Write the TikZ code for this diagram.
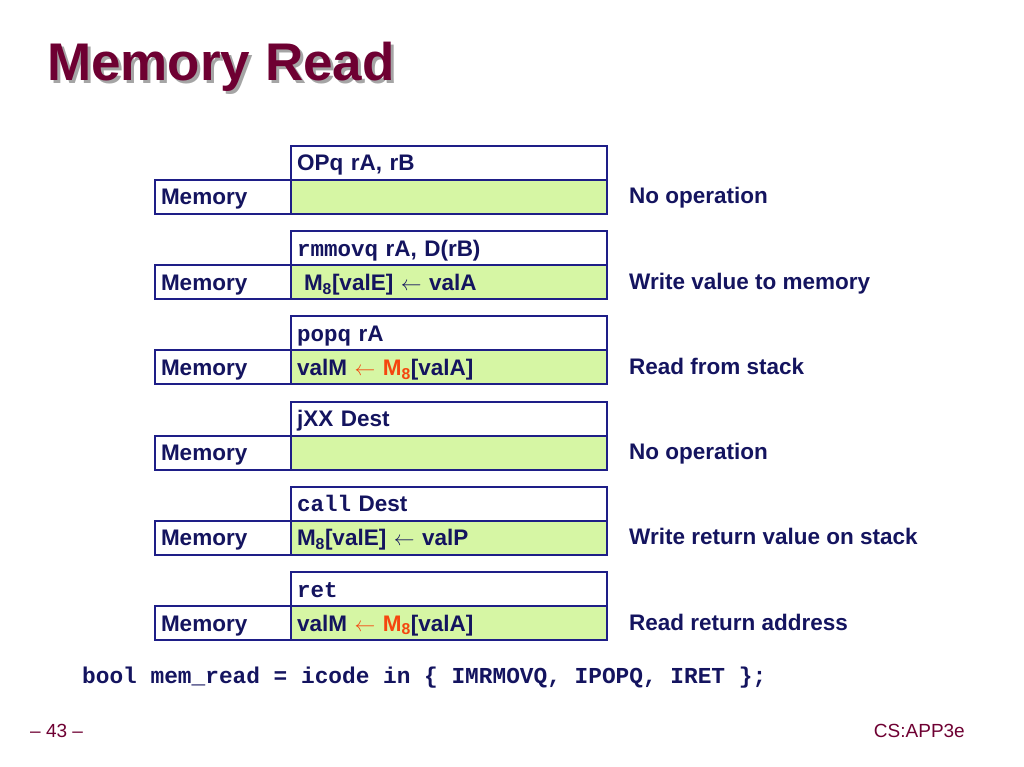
\documentclass[tikz,border=0pt]{standalone}
\usepackage{fontspec}
\setmainfont{Liberation Sans}
\setmonofont{Liberation Mono}
\definecolor{navy}{RGB}{20,20,95}
\definecolor{bord}{RGB}{30,30,135}
\definecolor{lime}{RGB}{214,246,164}
\definecolor{maroon}{RGB}{110,0,50}
\definecolor{shadowgray}{RGB}{165,165,165}
\definecolor{hot}{RGB}{245,70,15}
\newcommand{\la}{$\leftarrow$}
\newcommand{\hla}{\textcolor{hot}{$\leftarrow$}}
\begin{document}
\begin{tikzpicture}[x=1pt,y=-1pt,
  txt/.style={font=\fontsize{22.5}{26}\selectfont\bfseries, text=navy},
  basebox/.style={draw=bord, line width=2pt, anchor=north west, inner sep=0pt,
     inner xsep=6pt, minimum height=34pt, align=left, text height=16pt, text depth=0pt, txt},
  instbox/.style={basebox, fill=white, minimum width=316pt, text width=304pt},
  opbox/.style={basebox, fill=lime, minimum width=316pt, text width=304pt},
  membox/.style={basebox, fill=white, minimum width=136pt, text width=124pt},
  desc/.style={txt, anchor=west, inner sep=0pt, text height=16pt, text depth=0pt},
  foot/.style={font=\fontsize{19}{22}\selectfont, text=maroon, inner sep=0pt},
  titlefont/.style={font=\fontsize{53}{60}\selectfont\bfseries, anchor=base west, inner sep=0pt}
]
\useasboundingbox (0,0) rectangle (1024,767);

% title
\node[titlefont, text=shadowgray] (titleshadow) at (50,84) {Memory Read};
\node[titlefont, text=maroon] (title) at (47,81) {Memory Read};

% row 1
\node[instbox] (i1) at (290,145) {OPq rA, rB};
\node[membox] (m1) at (154,179) {Memory};
\node[opbox] (o1) at (290,179) {};
\node[desc] (d1) at (629,196) {No operation};

% row 2
\node[instbox] (i2) at (290,230.2) {\texttt{rmmovq} rA, D(rB)};
\node[membox] (m2) at (154,264.2) {Memory};
\node[opbox] (o2) at (290,264.2) {\hspace*{7pt}M\textsubscript{8}[valE] \la{} valA};
\node[desc] (d2) at (629,281.2) {Write value to memory};

% row 3
\node[instbox] (i3) at (290,315.4) {\texttt{popq} rA};
\node[membox] (m3) at (154,349.4) {Memory};
\node[opbox] (o3) at (290,349.4) {valM \hla{} \textcolor{hot}{M\textsubscript{8}}[valA]};
\node[desc] (d3) at (629,366.4) {Read from stack};

% row 4
\node[instbox] (i4) at (290,400.6) {jXX Dest};
\node[membox] (m4) at (154,434.6) {Memory};
\node[opbox] (o4) at (290,434.6) {};
\node[desc] (d4) at (629,451.6) {No operation};

% row 5
\node[instbox] (i5) at (290,485.8) {\texttt{call} Dest};
\node[membox] (m5) at (154,519.8) {Memory};
\node[opbox] (o5) at (290,519.8) {M\textsubscript{8}[valE] \la{} valP};
\node[desc] (d5) at (629,536.8) {Write return value on stack};

% row 6
\node[instbox] (i6) at (290,571) {\texttt{ret}};
\node[membox] (m6) at (154,605) {Memory};
\node[opbox] (o6) at (290,605) {valM \hla{} \textcolor{hot}{M\textsubscript{8}}[valA]};
\node[desc] (d6) at (629,622) {Read return address};

% code line
\node[font=\fontsize{22.8}{26}\selectfont\ttfamily\bfseries, text=navy, anchor=base west, inner sep=0pt] (code) at (82,683)
  {bool mem\_read = icode in \{ IMRMOVQ, IPOPQ, IRET \};};

% footer
\node[foot, anchor=west] (page) at (30,731) {– 43 –};
\node[foot, anchor=east] (brand) at (965,731) {CS:APP3e};
\end{tikzpicture}
\end{document}
